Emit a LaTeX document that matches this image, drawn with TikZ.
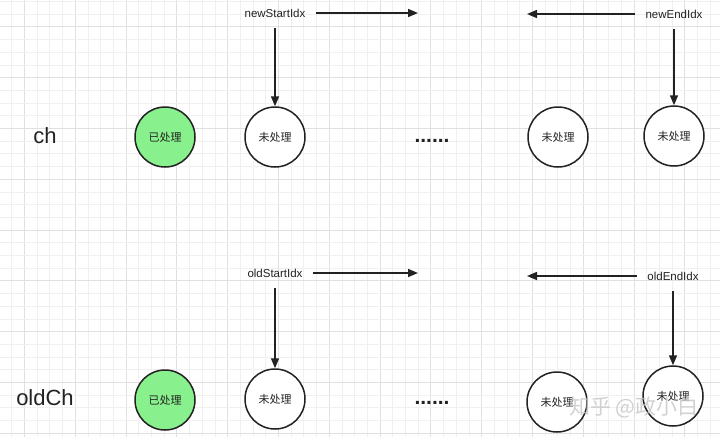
\documentclass[tikz,border=0pt]{standalone}
\usepackage{fontspec}
\setmainfont{Liberation Sans}
\newfontfamily\cjk{Noto Sans CJK SC}
\usetikzlibrary{arrows.meta}
\definecolor{gridminor}{HTML}{F0F0F0}
\definecolor{gridmajor}{HTML}{E0E0E0}
\definecolor{done}{HTML}{88F08C}
\definecolor{ink}{HTML}{222222}
\begin{document}
\begin{tikzpicture}[x=1pt,y=-1pt,
  state/.style={circle,draw=ink,line width=1.5pt,minimum size=60pt,inner sep=0pt,fill=white,font=\cjk\fontsize{11}{13}\selectfont,text=ink},
  donestate/.style={state,fill=done},
  rowlabel/.style={font=\fontsize{22}{26}\selectfont,text=ink},
  idx/.style={font=\fontsize{11.5}{14}\selectfont,text=ink,inner xsep=10pt,inner ysep=11pt},
  arr/.style={draw=ink,line width=1.5pt,-{Triangle[length=10pt,width=8pt]}},
  dotrow/.style={font=\bfseries\fontsize{21}{24}\selectfont,text=ink,inner sep=0pt},
  watermark/.style={font=\cjk\fontsize{21}{24}\selectfont,text=gray!45,opacity=0.8}]
\useasboundingbox (0,0) rectangle (720,437);
\fill[white] (0,0) rectangle (720,437);
% grid
\foreach \k in {0,...,57}{
  \pgfmathsetmacro\xx{-1.1+12.7*\k}
  \pgfmathtruncatemacro\m{mod(\k,4)}
  \ifnum\m=2
    \draw[gridmajor,line width=0.8pt] (\xx,0) -- (\xx,437);
  \else
    \draw[gridminor,line width=0.6pt] (\xx,0) -- (\xx,437);
  \fi
}
\foreach \k in {0,...,35}{
  \pgfmathsetmacro\yy{1.3+12.7*\k}
  \pgfmathtruncatemacro\m{mod(\k,4)}
  \ifnum\m=2
    \draw[gridmajor,line width=0.8pt] (0,\yy) -- (720,\yy);
  \else
    \draw[gridminor,line width=0.6pt] (0,\yy) -- (720,\yy);
  \fi
}
% row labels
\node[rowlabel] (ch) at (45,136) {ch};
\node[rowlabel] (oldch) at (45,398) {oldCh};
% top row
\node[donestate] (n1) at (165,137) {已处理};
\node[state] (n2) at (275,137) {未处理};
\node[dotrow] (ndots) at (432,141) {......};
\node[state] (n3) at (558,137) {未处理};
\node[state] (n4) at (674,136) {未处理};
% bottom row
\node[donestate] (o1) at (165,400) {已处理};
\node[state] (o2) at (275,399) {未处理};
\node[dotrow] (odots) at (432,403) {......};
\node[state] (o3) at (557,402) {未处理};
\node[state] (o4) at (673,396) {未处理};
% index labels
\node[idx] (ns) at (275,13) {newStartIdx};
\node[idx] (ne) at (674,14) {newEndIdx};
\node[idx] (os) at (275,273) {oldStartIdx};
\node[idx] (oe) at (673,276) {oldEndIdx};
\coordinate (nsend) at (418,13);
\coordinate (neend) at (527,14);
\coordinate (osend) at (418,273);
\coordinate (oeend) at (527,276);
% connectors
\draw[arr] (ns.east) -- (nsend);
\draw[arr] (ne.west) -- (neend);
\draw[arr] (os.east) -- (osend);
\draw[arr] (oe.west) -- (oeend);
\draw[arr] (ns.south) -- (n2.north);
\draw[arr] (ne.south) -- (n4.north);
\draw[arr] (os.south) -- (o2.north);
\draw[arr] (oe.south) -- (o4.north);
% watermark
\node[watermark] (wm) at (634,407) {知乎 @政小白};
\end{tikzpicture}
\end{document}
